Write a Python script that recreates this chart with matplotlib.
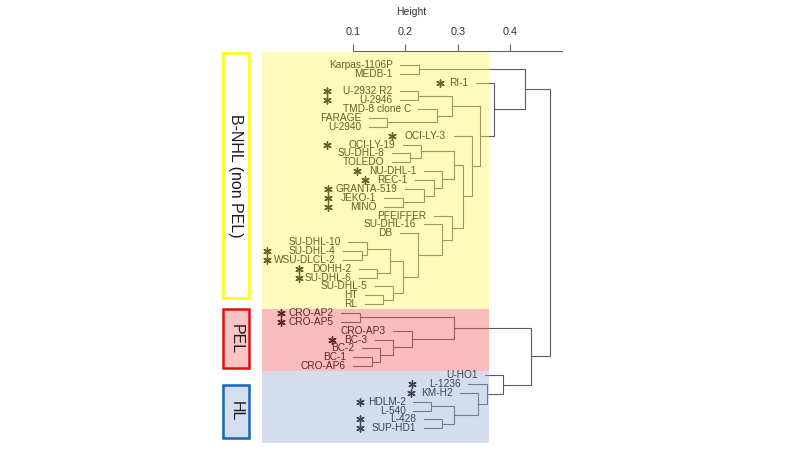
import matplotlib.pyplot as plt
from matplotlib.patches import Rectangle

plt.rcParams['font.family'] = ['Liberation Sans', 'DejaVu Sans']

# leaf order, top to bottom
leaves = ["Karpas-1106P", "MEDB-1", "RI-1", "U-2932 R2", "U-2946", "TMD-8 clone C",
          "FARAGE", "U-2940", "OCI-LY-3", "OCI-LY-19", "SU-DHL-8", "TOLEDO",
          "NU-DHL-1", "REC-1", "GRANTA-519", "JEKO-1", "MINO", "PFEIFFER",
          "SU-DHL-16", "DB", "SU-DHL-10", "SU-DHL-4", "WSU-DLCL-2", "DOHH-2",
          "SU-DHL-6", "SU-DHL-5", "HT", "RL",
          "CRO-AP2", "CRO-AP5", "CRO-AP3", "BC-3", "BC-2", "BC-1", "CRO-AP6",
          "U-HO1", "L-1236", "KM-H2", "HDLM-2", "L-540", "L-428", "SUP-HD1"]

# merges: (node, left, right, height)
merges = [
    ("k1", "Karpas-1106P", "MEDB-1", 0.226),
    ("a", "U-2932 R2", "U-2946", 0.225),
    ("b", "FARAGE", "U-2940", 0.166),
    ("c", "TMD-8 clone C", "b", 0.260),
    ("d", "a", "c", 0.289),
    ("s", "SU-DHL-8", "TOLEDO", 0.209),
    ("x", "OCI-LY-19", "s", 0.231),
    ("jm", "JEKO-1", "MINO", 0.195),
    ("h1", "GRANTA-519", "jm", 0.235),
    ("h2", "REC-1", "h1", 0.254),
    ("h3", "NU-DHL-1", "h2", 0.270),
    ("xh", "x", "h3", 0.292),
    ("w", "SU-DHL-4", "WSU-DLCL-2", 0.117),
    ("w2", "SU-DHL-10", "w", 0.127),
    ("ds", "DOHH-2", "SU-DHL-6", 0.147),
    ("l1", "w2", "ds", 0.171),
    ("hr", "HT", "RL", 0.158),
    ("l2", "SU-DHL-5", "hr", 0.177),
    ("l3", "l1", "l2", 0.196),
    ("db", "DB", "l3", 0.225),
    ("s16", "SU-DHL-16", "db", 0.270),
    ("pf", "PFEIFFER", "s16", 0.289),
    ("g", "xh", "pf", 0.310),
    ("f", "OCI-LY-3", "g", 0.327),
    ("e", "d", "f", 0.342),
    ("r", "RI-1", "e", 0.369),
    ("bn", "k1", "r", 0.428),
    ("p1", "CRO-AP2", "CRO-AP5", 0.113),
    ("p2", "BC-1", "CRO-AP6", 0.136),
    ("p3", "BC-2", "p2", 0.152),
    ("p4", "BC-3", "p3", 0.177),
    ("p5", "CRO-AP3", "p4", 0.212),
    ("pel", "p1", "p5", 0.292),
    ("ha", "HDLM-2", "L-540", 0.250),
    ("hb", "L-428", "SUP-HD1", 0.270),
    ("hc", "ha", "hb", 0.292),
    ("hd", "KM-H2", "hc", 0.339),
    ("he", "L-1236", "hd", 0.355),
    ("hl", "U-HO1", "he", 0.387),
    ("ph", "pel", "hl", 0.440),
    ("root", "bn", "ph", 0.476),
]

# leaves marked with an asterisk, and where the mark sits (height units)
stars = {"RI-1": 0.266, "U-2932 R2": 0.052, "U-2946": 0.052, "OCI-LY-3": 0.174,
         "OCI-LY-19": 0.052, "NU-DHL-1": 0.108, "REC-1": 0.123,
         "GRANTA-519": 0.053, "JEKO-1": 0.053, "MINO": 0.053,
         "SU-DHL-4": -0.064, "WSU-DLCL-2": -0.064, "DOHH-2": -0.002,
         "SU-DHL-6": -0.002, "CRO-AP2": -0.037, "CRO-AP5": -0.037,
         "BC-3": 0.061, "L-1236": 0.212, "KM-H2": 0.211,
         "HDLM-2": 0.114, "L-428": 0.114, "SUP-HD1": 0.114}

groups = ["B-NHL (non PEL)", "PEL", "HL"]
group_rows = [(-1.45, 27.5), (27.5, 34.5), (34.5, 42.65)]
group_box_rows = [(-1.3, 26.35), (27.6, 34.25), (36.1, 42.15)]
shade_colors = ["#fff35c", "#f25c5c", "#98acd4"]
edge_colors = ["#ffff00", "#e01010", "#1a64b4"]
box_fill = ["#ffffff", "#f8c4c4", "#d5def0"]

hang = 0.035
line_col = "#5c5c5c"
text_col = "#000000"

fig = plt.figure(figsize=(8, 4.5), dpi=100)
W, H = 800, 450
ax = fig.add_axes([352.7 / W, 1 - 443 / H, 209 / W, (443 - 50.7) / H])
ax.set_xlim(0.1, 0.498)
ax.set_ylim(42.66, -1.59)

pos = {name: float(i) for i, name in enumerate(leaves)}
top = {}
for node, a, b, h in merges:
    xs = []
    for child in (a, b):
        if child in top:
            xs.append(top[child])
        else:
            xs.append(h - hang)
            ax.text(h - hang - 0.0143, pos[child], child, ha="right", va="center",
                    fontsize=7.3, color=text_col, zorder=3, clip_on=False)
    ax.plot([xs[0], h, h, xs[1]], [pos[a], pos[a], pos[b], pos[b]],
            color=line_col, lw=0.8, zorder=2, clip_on=False,
            solid_joinstyle="miter")
    pos[node] = (pos[a] + pos[b]) / 2
    top[node] = h

sx = [stars[k] for k in stars]
sy = [leaves.index(k) for k in stars]
ax.scatter(sx, sy, marker=(6, 2, 0), s=28, color="#000000", lw=1.0,
           zorder=3, clip_on=False)

for (y0, y1), c in zip(group_rows, shade_colors):
    ax.add_patch(Rectangle((-0.0728, y0), 0.3596 + 0.0728, y1 - y0, facecolor=c,
                           edgecolor="none", alpha=0.4, zorder=5, clip_on=False))

for name, (y0, y1), ec, fc in zip(groups, group_box_rows, edge_colors, box_fill):
    ax.add_patch(Rectangle((-0.1476, y0), 0.0506, y1 - y0, facecolor=fc,
                           edgecolor=ec, lw=1.8, zorder=6, clip_on=False))
    ax.text(-0.1223, (y0 + y1) / 2, name, rotation=270, ha="center", va="center",
            fontsize=11.5, color="#1a1a1a", zorder=7, clip_on=False)

for side in ["left", "right", "bottom"]:
    ax.spines[side].set_visible(False)
ax.spines["top"].set_color("#666666")
ax.spines["top"].set_linewidth(0.8)
ax.xaxis.tick_top()
ax.set_xticks([0.1, 0.2, 0.3, 0.4])
ax.set_xticklabels(["0.1", "0.2", "0.3", "0.4"])
ax.tick_params(axis="x", direction="out", length=5, width=0.8, color="#666666",
               labelsize=7.8, labelcolor="#333333", pad=5)
ax.set_yticks([])
ax.patch.set_visible(False)
ax.xaxis.set_label_position("top")
ax.set_xlabel("Height", fontsize=7.5, color="#333333")
ax.xaxis.set_label_coords(0.282, 1.09)

fig.savefig("out.png", dpi=100)
